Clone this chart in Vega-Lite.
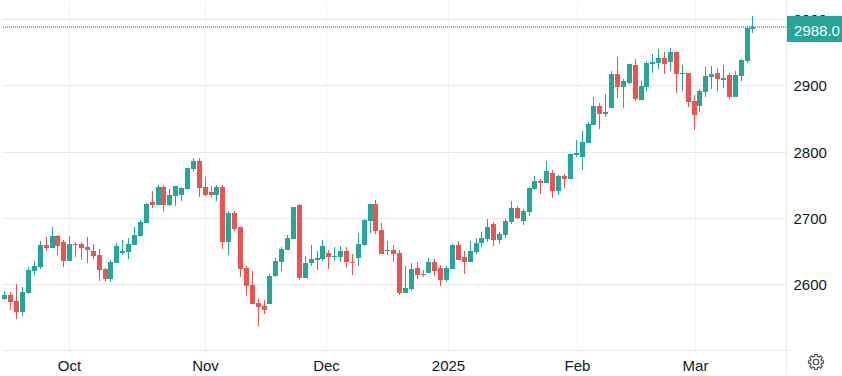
{"$schema":"https://vega.github.io/schema/vega-lite/v6.json","width":784,"height":350,"padding":{"left":2,"top":0,"right":56,"bottom":26},"autosize":{"type":"none"},"background":"#ffffff","config":{"view":{"stroke":null},"font":"Liberation Sans","scale":{"continuousPadding":0}},
"datasets":{"candles":[
{"i":0,"d":"up","o":2577.8,"h":2589.9,"l":2576.3,"c":2583.9},
{"i":1,"d":"down","o":2583.9,"h":2588.4,"l":2561.2,"c":2573.3},
{"i":2,"d":"down","o":2574.8,"h":2600.5,"l":2547.6,"c":2558.1},
{"i":3,"d":"up","o":2558.1,"h":2596,"l":2552.1,"c":2588.4},
{"i":4,"d":"up","o":2586.9,"h":2625.7,"l":2585.4,"c":2621.7},
{"i":5,"d":"up","o":2620.2,"h":2635.3,"l":2614.1,"c":2627.7},
{"i":6,"d":"up","o":2626.2,"h":2665.6,"l":2623.2,"c":2659.5},
{"i":7,"d":"down","o":2659.5,"h":2671.6,"l":2650.4,"c":2655},
{"i":8,"d":"up","o":2655,"h":2686.7,"l":2655,"c":2673.1},
{"i":9,"d":"down","o":2673.1,"h":2674.6,"l":2644.4,"c":2658},
{"i":10,"d":"down","o":2664,"h":2667.1,"l":2626.2,"c":2635.3},
{"i":11,"d":"up","o":2635.3,"h":2673.1,"l":2635.3,"c":2661},
{"i":12,"d":"down","o":2661,"h":2664,"l":2641.4,"c":2659.5},
{"i":13,"d":"down","o":2661,"h":2664,"l":2636.8,"c":2655},
{"i":14,"d":"down","o":2656.5,"h":2671.6,"l":2632.3,"c":2651.9},
{"i":15,"d":"down","o":2650.4,"h":2661,"l":2638.3,"c":2642.9},
{"i":16,"d":"down","o":2644.4,"h":2653.5,"l":2605,"c":2621.7},
{"i":17,"d":"down","o":2623.2,"h":2624.7,"l":2605,"c":2608.1},
{"i":18,"d":"up","o":2608.1,"h":2636.8,"l":2603.5,"c":2633.8},
{"i":19,"d":"up","o":2632.3,"h":2662.5,"l":2632.3,"c":2658},
{"i":20,"d":"up","o":2647.4,"h":2667.1,"l":2644.4,"c":2650.4},
{"i":21,"d":"up","o":2648.9,"h":2670.1,"l":2638.3,"c":2661},
{"i":22,"d":"up","o":2659.5,"h":2686.7,"l":2659.5,"c":2674.6},
{"i":23,"d":"up","o":2673.1,"h":2697.3,"l":2673.1,"c":2694.3},
{"i":24,"d":"up","o":2692.8,"h":2723,"l":2692.8,"c":2721.5},
{"i":25,"d":"down","o":2724.6,"h":2741.2,"l":2715.5,"c":2720},
{"i":26,"d":"up","o":2720,"h":2750.3,"l":2720,"c":2747.3},
{"i":27,"d":"down","o":2747.3,"h":2750.3,"l":2709.4,"c":2720},
{"i":28,"d":"up","o":2720,"h":2744.2,"l":2718.5,"c":2735.2},
{"i":29,"d":"up","o":2733.6,"h":2748.8,"l":2718.5,"c":2748.8},
{"i":30,"d":"up","o":2735.2,"h":2747.3,"l":2726.1,"c":2745.7},
{"i":31,"d":"up","o":2744.2,"h":2776,"l":2744.2,"c":2776},
{"i":32,"d":"up","o":2774.5,"h":2791.1,"l":2771.5,"c":2786.6},
{"i":33,"d":"down","o":2786.6,"h":2791.1,"l":2732.1,"c":2745.7},
{"i":34,"d":"down","o":2747.3,"h":2762.4,"l":2733.6,"c":2735.2},
{"i":35,"d":"down","o":2739.7,"h":2748.8,"l":2732.1,"c":2735.2},
{"i":36,"d":"up","o":2735.2,"h":2750.3,"l":2726.1,"c":2747.3},
{"i":37,"d":"down","o":2747.3,"h":2750.3,"l":2653.5,"c":2664},
{"i":38,"d":"up","o":2664,"h":2710.9,"l":2644.4,"c":2707.9},
{"i":39,"d":"down","o":2707.9,"h":2710.9,"l":2680.7,"c":2683.7},
{"i":40,"d":"down","o":2686.7,"h":2686.7,"l":2611.1,"c":2623.2},
{"i":41,"d":"down","o":2624.7,"h":2627.7,"l":2582.3,"c":2597.5},
{"i":42,"d":"down","o":2599,"h":2620.2,"l":2570.2,"c":2570.2},
{"i":43,"d":"down","o":2571.8,"h":2577.8,"l":2537,"c":2565.7},
{"i":44,"d":"down","o":2567.2,"h":2576.3,"l":2555.1,"c":2561.2},
{"i":45,"d":"up","o":2570.2,"h":2615.6,"l":2570.2,"c":2612.6},
{"i":46,"d":"up","o":2612.6,"h":2639.8,"l":2611.1,"c":2635.3},
{"i":47,"d":"up","o":2633.8,"h":2656.5,"l":2620.2,"c":2653.5},
{"i":48,"d":"up","o":2651.9,"h":2674.6,"l":2651.9,"c":2670.1},
{"i":49,"d":"up","o":2668.6,"h":2717,"l":2668.6,"c":2717},
{"i":50,"d":"down","o":2720,"h":2721.5,"l":2606.6,"c":2609.6},
{"i":51,"d":"up","o":2609.6,"h":2642.9,"l":2609.6,"c":2632.3},
{"i":52,"d":"up","o":2632.3,"h":2659.5,"l":2627.7,"c":2638.3},
{"i":53,"d":"up","o":2636.8,"h":2650.4,"l":2621.7,"c":2639.8},
{"i":54,"d":"up","o":2638.3,"h":2667.1,"l":2635.3,"c":2658},
{"i":55,"d":"down","o":2647.4,"h":2651.9,"l":2623.2,"c":2641.4},
{"i":56,"d":"up","o":2641.4,"h":2656.5,"l":2635.3,"c":2642.9},
{"i":57,"d":"up","o":2641.4,"h":2658,"l":2633.8,"c":2650.4},
{"i":58,"d":"down","o":2650.4,"h":2656.5,"l":2624.7,"c":2633.8},
{"i":59,"d":"down","o":2633.8,"h":2645.9,"l":2614.1,"c":2632.3},
{"i":60,"d":"up","o":2639.8,"h":2677.7,"l":2627.7,"c":2661},
{"i":61,"d":"up","o":2659.5,"h":2698.8,"l":2658,"c":2697.3},
{"i":62,"d":"up","o":2695.8,"h":2721.5,"l":2677.7,"c":2721.5},
{"i":63,"d":"down","o":2721.5,"h":2727.6,"l":2676.1,"c":2680.7},
{"i":64,"d":"down","o":2682.2,"h":2692.8,"l":2645.9,"c":2645.9},
{"i":65,"d":"up","o":2650.4,"h":2665.6,"l":2644.4,"c":2651.9},
{"i":66,"d":"down","o":2651.9,"h":2659.5,"l":2633.8,"c":2645.9},
{"i":67,"d":"down","o":2647.4,"h":2651.9,"l":2583.9,"c":2586.9},
{"i":68,"d":"up","o":2586.9,"h":2627.7,"l":2586.9,"c":2594.5},
{"i":69,"d":"up","o":2592.9,"h":2632.3,"l":2589.9,"c":2623.2},
{"i":70,"d":"down","o":2624.7,"h":2633.8,"l":2608.1,"c":2614.1},
{"i":71,"d":"down","o":2615.6,"h":2621.7,"l":2611.1,"c":2614.1},
{"i":72,"d":"up","o":2617.1,"h":2639.8,"l":2617.1,"c":2633.8},
{"i":73,"d":"down","o":2633.8,"h":2638.3,"l":2612.6,"c":2620.2},
{"i":74,"d":"down","o":2624.7,"h":2629.2,"l":2597.5,"c":2606.6},
{"i":75,"d":"up","o":2606.6,"h":2627.7,"l":2603.5,"c":2624.7},
{"i":76,"d":"up","o":2623.2,"h":2661,"l":2623.2,"c":2659.5},
{"i":77,"d":"down","o":2659.5,"h":2665.6,"l":2636.8,"c":2636.8},
{"i":78,"d":"down","o":2641.4,"h":2650.4,"l":2615.6,"c":2633.8},
{"i":79,"d":"up","o":2633.8,"h":2665.6,"l":2633.8,"c":2650.4},
{"i":80,"d":"up","o":2648.9,"h":2670.1,"l":2645.9,"c":2662.5},
{"i":81,"d":"up","o":2662.5,"h":2679.2,"l":2656.5,"c":2670.1},
{"i":82,"d":"up","o":2668.6,"h":2698.8,"l":2664,"c":2686.7},
{"i":83,"d":"down","o":2691.3,"h":2694.3,"l":2658,"c":2667.1},
{"i":84,"d":"up","o":2667.1,"h":2679.2,"l":2661,"c":2676.1},
{"i":85,"d":"up","o":2674.6,"h":2698.8,"l":2670.1,"c":2695.8},
{"i":86,"d":"up","o":2694.3,"h":2726.1,"l":2691.3,"c":2715.5},
{"i":87,"d":"down","o":2715.5,"h":2718.5,"l":2698.8,"c":2700.4},
{"i":88,"d":"up","o":2695.8,"h":2714,"l":2689.8,"c":2710.9},
{"i":89,"d":"up","o":2709.4,"h":2747.3,"l":2703.4,"c":2745.7},
{"i":90,"d":"up","o":2744.2,"h":2763.9,"l":2742.7,"c":2756.3},
{"i":91,"d":"down","o":2756.3,"h":2759.4,"l":2736.7,"c":2753.3},
{"i":92,"d":"up","o":2753.3,"h":2786.6,"l":2753.3,"c":2771.5},
{"i":93,"d":"down","o":2768.4,"h":2773,"l":2730.6,"c":2741.2},
{"i":94,"d":"up","o":2741.2,"h":2765.4,"l":2735.2,"c":2763.9},
{"i":95,"d":"down","o":2763.9,"h":2766.9,"l":2745.7,"c":2759.4},
{"i":96,"d":"up","o":2759.4,"h":2797.2,"l":2759.4,"c":2797.2},
{"i":97,"d":"up","o":2795.5,"h":2818.2,"l":2792.4,"c":2798.5},
{"i":98,"d":"up","o":2792.4,"h":2831.8,"l":2772.8,"c":2815.1},
{"i":99,"d":"up","o":2813.6,"h":2845.4,"l":2813.6,"c":2842.4},
{"i":100,"d":"up","o":2840.8,"h":2883.2,"l":2840.8,"c":2869.6},
{"i":101,"d":"down","o":2869.6,"h":2874.1,"l":2834.8,"c":2857.5},
{"i":102,"d":"up","o":2857.5,"h":2887.7,"l":2853,"c":2860.5},
{"i":103,"d":"up","o":2865.7,"h":2921.7,"l":2865.7,"c":2917.1},
{"i":104,"d":"down","o":2917.1,"h":2942.9,"l":2880.8,"c":2897.5},
{"i":105,"d":"up","o":2897.5,"h":2909.6,"l":2865.7,"c":2906.6},
{"i":106,"d":"up","o":2903.5,"h":2932.3,"l":2902,"c":2932.3},
{"i":107,"d":"down","o":2930.8,"h":2939.8,"l":2876.3,"c":2879.3},
{"i":108,"d":"up","o":2877.8,"h":2906.6,"l":2877.8,"c":2899},
{"i":109,"d":"up","o":2897.5,"h":2936.8,"l":2891.4,"c":2933.8},
{"i":110,"d":"up","o":2932.3,"h":2947.4,"l":2918.7,"c":2935.3},
{"i":111,"d":"up","o":2933.8,"h":2955,"l":2924.7,"c":2941.4},
{"i":112,"d":"down","o":2941.4,"h":2950.4,"l":2917.1,"c":2932.3},
{"i":113,"d":"up","o":2935.3,"h":2956.5,"l":2921.7,"c":2950.4},
{"i":114,"d":"down","o":2950.4,"h":2951.9,"l":2888.4,"c":2917.1},
{"i":115,"d":"up","o":2917.1,"h":2930.8,"l":2891.4,"c":2918.7},
{"i":116,"d":"down","o":2918.7,"h":2918.7,"l":2867.2,"c":2874.8},
{"i":117,"d":"down","o":2876.3,"h":2885.4,"l":2832.4,"c":2855.1},
{"i":118,"d":"up","o":2868.7,"h":2894.5,"l":2859.7,"c":2891.4},
{"i":119,"d":"up","o":2889.9,"h":2927.7,"l":2882.3,"c":2914.1},
{"i":120,"d":"up","o":2912.6,"h":2929.2,"l":2894.5,"c":2917.1},
{"i":121,"d":"down","o":2918.7,"h":2926.2,"l":2891.4,"c":2909.6},
{"i":122,"d":"up","o":2908.1,"h":2930.8,"l":2896,"c":2911.1},
{"i":123,"d":"down","o":2915.6,"h":2918.7,"l":2879.3,"c":2882.3},
{"i":124,"d":"up","o":2882.3,"h":2921.7,"l":2882.3,"c":2915.6},
{"i":125,"d":"up","o":2914.1,"h":2939.8,"l":2906.6,"c":2938.3},
{"i":126,"d":"up","o":2936.8,"h":2989.8,"l":2933.8,"c":2986.7},
{"i":127,"d":"up","o":2985.2,"h":3004.9,"l":2979.2,"c":2988}
]},
"layer":[
{"data":{"values":[{"p":2988}]},"mark":{"type":"rule","strokeWidth":2,"strokeDash":[1,1],"opacity":0.7},"encoding":{"y":{"field":"p","type":"quantitative","scale":{"domain":[2500.9,3028.8],"nice":false,"zero":false,"round":true}},"color":{"value":"#26a69a"}}},
{"data":{"name":"candles"},"mark":{"type":"rule","strokeWidth":1,"xOffset":0.5},
"encoding":{
"x":{"field":"i","type":"quantitative","title":null,"scale":{"domain":[-0.407,132.7],"nice":false,"zero":false,"round":true},
"axis":{"orient":"bottom","values":[11.03,33.98,54.66,75.36,97.26,117.3],"labelExpr":"datum.value<20?'Oct':datum.value<40?'Nov':datum.value<60?'Dec':datum.value<80?'2025':datum.value<100?'Feb':'Mar'","grid":true,"gridColor":"#f0f3fa","gridWidth":1,"domain":false,"ticks":false,"labelFontSize":15,"labelColor":"#131722","labelPadding":8,"labelFont":"Liberation Sans","labelFlush":false,"labelOverlap":false}},
"y":{"field":"l","type":"quantitative","title":null,"scale":{"domain":[2500.9,3028.8],"nice":false,"zero":false,"round":true},
"axis":{"orient":"right","values":[2600,2700,2800,2900,3000],"format":"d","grid":true,"gridColor":"#e8e8e8","gridWidth":1,"domain":false,"ticks":false,"labelFontSize":15,"labelColor":"#131722","labelPadding":7,"labelFont":"Liberation Sans","labelFlush":false,"labelOverlap":false}},
"y2":{"field":"h"},
"color":{"field":"d","type":"nominal","legend":null,"scale":{"domain":["up","down"],"range":["#26a69a","#ef5350"]}}}},
{"data":{"name":"candles"},"mark":{"type":"bar","size":5,"xOffset":0.5},
"encoding":{
"x":{"field":"i","type":"quantitative","scale":{"domain":[-0.407,132.7],"nice":false,"zero":false,"round":true}},
"y":{"field":"o","type":"quantitative","scale":{"domain":[2500.9,3028.8],"nice":false,"zero":false,"round":true}},
"y2":{"field":"c"},
"color":{"field":"d","type":"nominal","legend":null}}},
{"data":{"values":[{"x":132.7,"y":3028.8,"y2":2463}]},"mark":{"type":"rule","color":"#e8e8e8","strokeWidth":1,"clip":false,"xOffset":0.5},"encoding":{"x":{"field":"x","type":"quantitative","scale":{"domain":[-0.407,132.7],"nice":false,"zero":false,"round":true}},"y":{"field":"y","type":"quantitative","scale":{"domain":[2500.9,3028.8],"nice":false,"zero":false,"round":true}},"y2":{"field":"y2"}}},
{"data":{"values":[{"x":-0.407,"x2":133.4,"y":2500.9}]},"mark":{"type":"rule","color":"#e8e8e8","strokeWidth":1,"clip":false,"yOffset":0.5},"encoding":{"x":{"field":"x","type":"quantitative","scale":{"domain":[-0.407,132.7],"nice":false,"zero":false,"round":true}},"x2":{"field":"x2"},"y":{"field":"y","type":"quantitative","scale":{"domain":[2500.9,3028.8],"nice":false,"zero":false,"round":true}}}},
{"data":{"values":[{"x":132.8,"x2":142.6,"y":3004.7,"y2":2965.5}]},"mark":{"type":"rect","color":"#26a69a","clip":false},"encoding":{"x":{"field":"x","type":"quantitative","scale":{"domain":[-0.407,132.7],"nice":false,"zero":false,"round":true}},"x2":{"field":"x2"},"y":{"field":"y","type":"quantitative","scale":{"domain":[2500.9,3028.8],"nice":false,"zero":false,"round":true}},"y2":{"field":"y2"}}},
{"data":{"values":[{"x":137.9,"y":2982.5,"t":"2988.0"}]},"mark":{"type":"text","color":"#ffffff","fontSize":15,"font":"Liberation Sans","align":"center","baseline":"middle"},"encoding":{"x":{"field":"x","type":"quantitative","scale":{"domain":[-0.407,132.7],"nice":false,"zero":false,"round":true}},"y":{"field":"y","type":"quantitative","scale":{"domain":[2500.9,3028.8],"nice":false,"zero":false,"round":true}},"text":{"field":"t"}}},
{"data":{"values":[{"x":137.8,"y":2482.8}]},"mark":{"type":"point","filled":false,"stroke":"#555555","strokeWidth":1.2,"opacity":1,"size":230,"shape":"M.737 -.184L.988 -.156L.988 .156L.737 .184L.651 .391L.809 .588L.588 .809L.391 .651L.184 .737L.156 .988L-.156 .988L-.184 .737L-.391 .651L-.588 .809L-.809 .588L-.651 .391L-.737 .184L-.988 .156L-.988 -.156L-.737 -.184L-.651 -.391L-.809 -.588L-.588 -.809L-.391 -.651L-.184 -.737L-.156 -.988L.156 -.988L.184 -.737L.391 -.651L.588 -.809L.809 -.588L.651 -.391ZM.36 0A.36 .36 0 1 1 -.36 0A.36 .36 0 1 1 .36 0Z"},"encoding":{"x":{"field":"x","type":"quantitative","scale":{"domain":[-0.407,132.7],"nice":false,"zero":false,"round":true}},"y":{"field":"y","type":"quantitative","scale":{"domain":[2500.9,3028.8],"nice":false,"zero":false,"round":true}}}}
]}
